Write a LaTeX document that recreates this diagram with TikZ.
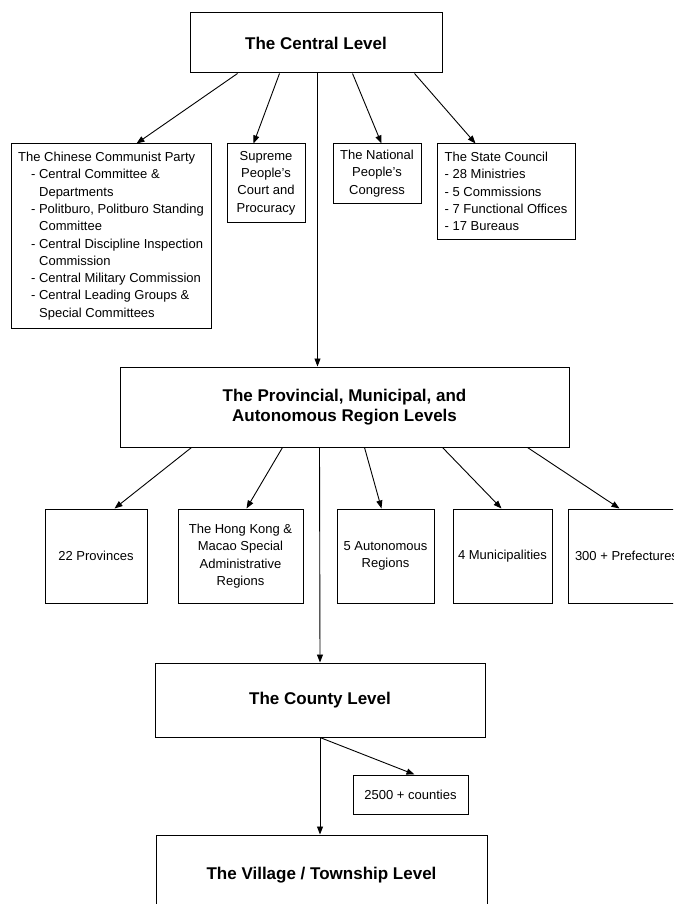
\documentclass[tikz,border=0pt]{standalone}
\usepackage{fontspec}
\setmainfont{Liberation Sans}
\usetikzlibrary{arrows.meta,calc}
\begin{document}
\begin{tikzpicture}[x=1pt,y=-1pt,
  box/.style={draw,line width=1pt,inner xsep=2pt,inner ysep=2pt,align=center,
    font=\fontsize{13}{17.3}\selectfont},
  title/.style={box,font=\fontsize{17}{20}\selectfont\bfseries},
  arr/.style={line width=0.9pt,-{Triangle[length=8pt,width=6pt]}}]
\useasboundingbox (0,0) rectangle (673,904);
\clip (0,0) rectangle (673,904);
\fill[white] (0,0) rectangle (673,904);
% central level
\node[title,minimum width=252pt,minimum height=60pt] (central) at (316,43) {The Central Level};
\node[box,minimum width=200pt,minimum height=184pt,align=left] (ccp) at (111,236)
 {The Chinese Communist Party\\
  \hspace*{13pt}- Central Committee \&\\
  \hspace*{21pt}Departments\\
  \hspace*{13pt}- Politburo, Politburo Standing\\
  \hspace*{21pt}Committee\\
  \hspace*{13pt}- Central Discipline Inspection\\
  \hspace*{21pt}Commission\\
  \hspace*{13pt}- Central Military Commission\\
  \hspace*{13pt}- Central Leading Groups \&\\
  \hspace*{21pt}Special Committees};
\node[box,minimum width=78pt,minimum height=78pt] (court) at (266,183)
 {Supreme\\People's\\Court and\\Procuracy};
\node[box,minimum width=88pt,minimum height=59pt] (npc) at (377,173.5)
 {The National\\People's\\Congress};
\node[box,minimum width=138pt,minimum height=95pt,align=left] (state) at (506,191.5)
 {The State Council\\- 28 Ministries\\- 5 Commissions\\- 7 Functional Offices\\- 17 Bureaus};
% provincial level
\node[title,minimum width=449pt,minimum height=80pt] (prov) at (344.5,407)
 {The Provincial, Municipal, and\\Autonomous Region Levels};
\node[box,minimum width=102pt,minimum height=94pt] (provinces) at (96,556) {22 Provinces};
\node[box,minimum width=125pt,minimum height=94pt] (hk) at (240.5,556)
 {The Hong Kong \&\\Macao Special\\Administrative\\Regions};
\node[box,minimum width=97pt,minimum height=94pt] (auto) at (385.5,556) {5 Autonomous\\Regions};
\node[box,minimum width=99pt,minimum height=94pt,inner xsep=0pt] (muni) at (502.5,556) {4 Municipalities};
\node[box,minimum width=117pt,minimum height=94pt] (pref) at (626.5,556) {300 + Prefectures};
% county level
\node[title,minimum width=330pt,minimum height=74pt] (county) at (320,700) {The County Level};
\node[box,minimum width=115pt,minimum height=39pt] (counties) at (410.5,794.5) {2500 + counties};
% village level
\node[title,minimum width=331pt,minimum height=80pt] (village) at (321.5,875) {The Village / Township Level};
% connectors: central
\draw[arr] ($(central.south west)+(48,0)$) -- ($(ccp.north west)+(126,0)$);
\draw[arr] ($(central.south west)+(90,0)$) -- ($(court.north west)+(27,0)$);
\draw[arr] ($(central.south west)+(163,0)$) -- ($(npc.north west)+(49,0)$);
\draw[arr] ($(central.south west)+(225,0)$) -- ($(state.north west)+(39,0)$);
\draw[arr] ($(central.south west)+(128,0)$) -- ($(prov.north west)+(198,0)$);
% connectors: provincial
\draw[arr] ($(prov.south west)+(72,0)$) -- ($(provinces.north west)+(70,0)$);
\draw[arr] ($(prov.south west)+(163,0)$) -- ($(hk.north west)+(69,0)$);
\draw[arr] ($(prov.south west)+(245,0)$) -- ($(auto.north west)+(45,0)$);
\draw[arr] ($(prov.south west)+(323,0)$) -- ($(muni.north west)+(49,0)$);
\draw[arr] ($(prov.south west)+(408,0)$) -- ($(pref.north west)+(52,0)$);
\draw[arr] ($(prov.south west)+(200,0)$) -- (county.north);
% connectors: county
\draw[arr] (county.south) -- ($(counties.north west)+(62,0)$);
\draw[arr] (county.south) -- (county.south |- village.north);
\end{tikzpicture}
\end{document}
